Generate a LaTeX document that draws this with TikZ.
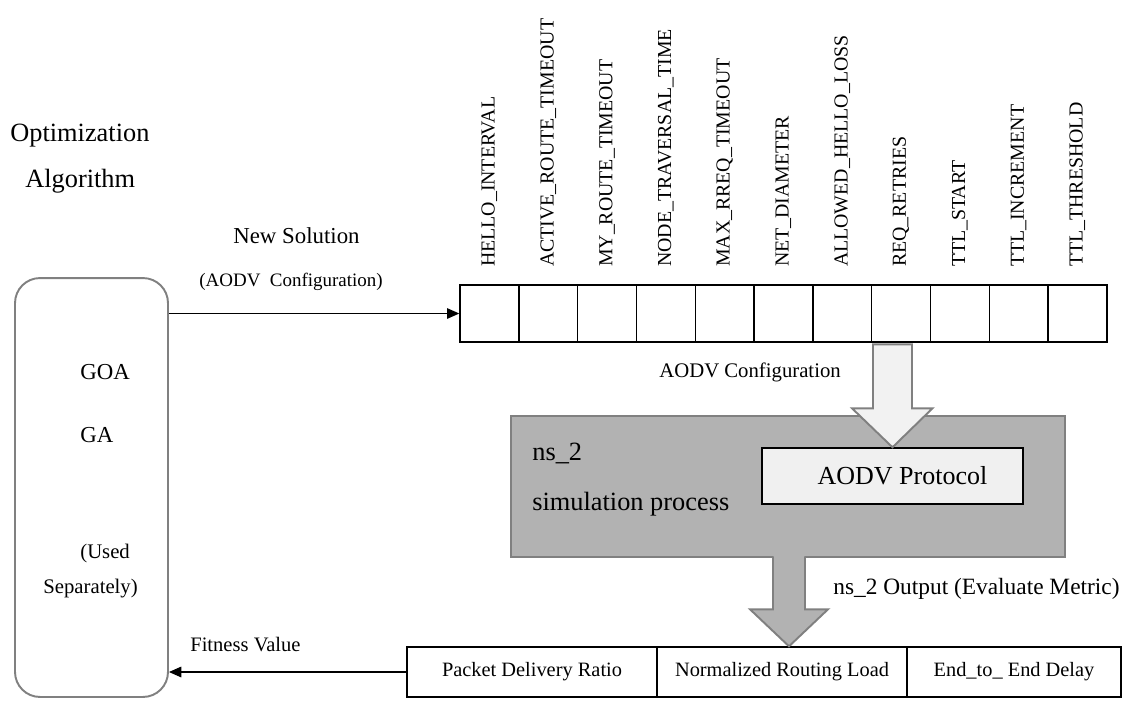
\documentclass[tikz,border=0pt]{standalone}
\usepackage{fontspec}
\setmainfont{Liberation Serif}
\usetikzlibrary{arrows.meta,calc}
\newcommand{\fsz}[1]{\fontsize{#1}{#1}\selectfont}
\definecolor{boxgray}{RGB}{128,128,128}
\definecolor{simgray}{RGB}{178,178,178}
\definecolor{simedge}{RGB}{128,128,128}
\definecolor{protofill}{RGB}{240,240,240}
\definecolor{cfgfill}{RGB}{242,242,242}
\begin{document}
\begin{tikzpicture}[x=0.02cm,y=-0.02cm,
    cell/.style={draw,line width=0.8pt,minimum width=1.176cm,minimum height=1.14cm,inner sep=0pt},
    param/.style={rotate=90,anchor=west,inner sep=0pt,font=\fsz{11.3}},
    lbl/.style={anchor=base west,inner sep=0pt},
    metric/.style={draw,line width=0.8pt,minimum height=1cm,inner sep=0pt,font=\fsz{11.6}},
    flow/.style={-{Triangle[length=7pt,width=6pt]},line width=0.7pt},
    cfgarrow/.style={fill=cfgfill,draw=simedge,line width=1.1pt,line join=miter}]
  \useasboundingbox (0,0) rectangle (1125,700);
  \node[draw=boxgray,line width=1.1pt,rounded corners=0.5cm,minimum width=3.06cm,minimum height=8.38cm] (alg) at (91.5,487.5) {};
  \node[lbl,font=\fsz{15}] (opt) at (10,141) {Optimization};
  \node[lbl,font=\fsz{15}] (algo) at (25,187) {Algorithm};
  \node[lbl,font=\fsz{13}] (goa) at (80,379) {GOA};
  \node[lbl,font=\fsz{13}] (ga) at (80,442) {GA};
  \node[lbl,font=\fsz{11.8}] (used) at (80,558) {(Used};
  \node[lbl,font=\fsz{11.8}] (sep) at (43,593) {Separately)};
  \node[lbl,font=\fsz{13}] (newsol) at (233,243) {New Solution};
  \node[lbl,font=\fsz{10.8}] (newcfg) at (199,286) {(AODV\ \ Configuration)};
  \node[lbl,font=\fsz{11.7}] (fit) at (190,651) {Fitness Value};
  \foreach \name [count=\i] in {HELLO\_INTERVAL,ACTIVE\_ROUTE\_TIMEOUT,MY\_ROUTE\_TIMEOUT,
      NODE\_TRAVERSAL\_TIME,MAX\_RREQ\_TIMEOUT,NET\_DIAMETER,ALLOWED\_HELLO\_LOSS,
      REQ\_RETRIES,TTL\_START,TTL\_INCREMENT,TTL\_THRESHOLD} {
    \node[cell] (cell\i) at ({489.4+58.8*(\i-1)},313.5) {};
    \node[param] (par\i) at ([yshift=0.34cm]cell\i.north) {\name};
  }
  \draw[flow] (alg.east |- cell1.west) -- (cell1.west);
  \node[draw=simedge,fill=simgray,line width=1.1pt,minimum width=11.08cm,minimum height=2.82cm] (sim) at (788,486.5) {};
  \node[lbl,font=\fsz{15}] (ns) at (532,460) {ns\_2};
  \node[lbl,font=\fsz{15}] (simproc) at (532,510) {simulation process};
  \node[draw,fill=protofill,line width=0.8pt,minimum width=5.22cm,minimum height=1.12cm,inner sep=0pt,font=\fsz{14.8}] (proto) at (892.5,476) {\hspace{0.4cm}AODV Protocol};
  \node[lbl,font=\fsz{11.8}] (cfg) at (659,377) {AODV Configuration};
  \draw[cfgarrow] (proto.north) -- ++(-40.5,-39) -- ++(21,0) -- ++(0,-64) -- ++(39,0) -- ++(0,64) -- ++(20.5,0) -- cycle;
  \node[metric,minimum width=5cm] (pdr) at (532,672) {Packet Delivery Ratio};
  \node[metric,minimum width=5cm] (nrl) at (782,672) {Normalized Routing Load};
  \node[metric,minimum width=4.28cm] (eed) at (1014,672) {End\_to\_ End Delay};
  \node[lbl,font=\fsz{13.3}] (out) at (833,594) {ns\_2 Output (Evaluate Metric)};
  \coordinate (outtip) at ($(nrl.north)+(7,0)$);
  \fill[simgray] (outtip) ++(-16,-92) -- ++(0,55) -- ++(-23,0) -- (outtip) -- ++(39,-37) -- ++(-23,0) -- ++(0,-55) -- cycle;
  \draw[simedge,line width=1.1pt,line join=miter] (outtip) ++(-16,-90) -- ++(0,53) -- ++(-23,0) -- (outtip) -- ++(39,-37) -- ++(-23,0) -- ++(0,-53);
  \draw[flow] (pdr.west) -- (alg.east |- pdr.west);
\end{tikzpicture}
\end{document}
